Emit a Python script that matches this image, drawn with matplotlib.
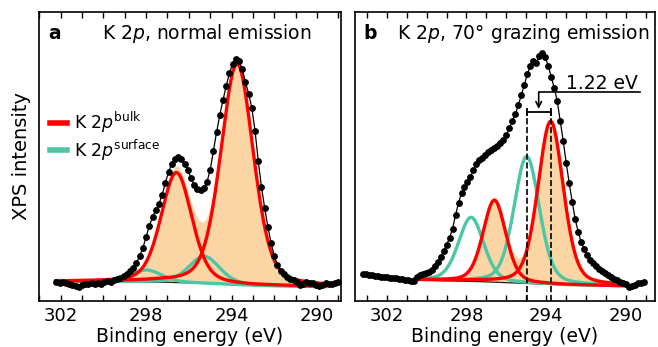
import numpy as np
import matplotlib
matplotlib.use("Agg")
import matplotlib.pyplot as plt
from matplotlib.lines import Line2D

# ---------------- data ----------------
# Panel a: K 2p, normal emission -- measured points (start energy, step, values)
a_start, a_step = 302.2, -0.15
a_counts = [19, 18, 19, 18, 17, 16, 15, 14, 16, 17, 17, 18, 17, 18, 17, 19, 20, 19,
            21, 22, 23, 25, 27, 30, 33, 38, 45, 53, 64, 75, 84, 91, 97, 106, 118,
            129, 137, 142, 144, 142, 137, 131, 123, 116, 112, 111, 113, 119, 131,
            150, 169, 186, 201, 215, 228, 237, 242, 240, 232, 219, 207, 193, 170,
            140, 114, 93, 74, 58, 45, 36, 30, 27, 24, 22, 21, 19, 16, 17, 19, 18,
            18, 16, 15, 16, 18, 17, 17, 18, 19]

# Panel b: K 2p, 70 deg grazing emission
b_start, b_step = 303.2, -0.15
b_counts = [27, 27, 26, 26, 25, 25, 24, 24, 24, 23, 23, 23, 22, 22, 21, 21, 20, 20,
            24, 26, 27, 28, 29, 31, 35, 39, 44, 50, 56, 63, 72, 86, 98, 108, 114,
            119, 124, 131, 137, 141, 143, 146, 149, 151, 153, 155, 158, 161, 166,
            173, 180, 187, 196, 206, 216, 227, 235, 240, 238, 245, 248, 244, 235,
            224, 213, 200, 180, 160, 138, 118, 99, 82, 69, 59, 52, 46, 41, 38, 35,
            32, 30, 28, 26, 24, 22, 21, 19, 18, 17, 14, 15, 16, 18, 18, 19]

# Fit components (centre eV, amplitude, FWHM eV)
a_bulk_center = [293.74, 296.58]
a_bulk_amp = [221, 110]
a_bulk_fwhm = [1.8, 1.7]
a_surf_center = [295.28, 298.0]
a_surf_amp = [27, 12]
a_surf_fwhm = [1.7, 1.7]
a_bg_energy = [302.2, 297.5, 295.0, 293.0, 289.6]
a_bg_level = [19.5, 19.0, 17.5, 15.5, 14.3]
a_fit_range = (302.2, 289.6)

b_bulk_center = [293.78, 296.6]
b_bulk_amp = [163, 82]
b_bulk_fwhm = [1.5, 1.35]
b_surf_center = [294.98, 297.77]
b_surf_amp = [127, 64]
b_surf_fwhm = [1.5, 1.5]
b_bg_energy = [300.6, 297.5, 295.0, 293.0, 290.0]
b_bg_level = [21.0, 19.5, 17.5, 16.0, 15.0]
b_fit_range = (300.6, 290.0)

lorentz_fraction = 0.3
shift_label = "1.22 eV"

xticks_major = [302, 298, 294, 290]

# ---------------- styling ----------------
RED = "#ff0000"
TEAL = "#4cc6a4"
FILL = "#fcd5a5"
FS = 13.5

plt.rcParams["font.family"] = ["DejaVu Sans"]
plt.rcParams["mathtext.fontset"] = "dejavusans"


def pv(E, c, a, w, eta=lorentz_fraction):
    s = w / 2.3548
    G = np.exp(-0.5 * ((E - c) / s) ** 2)
    L = 1.0 / (1.0 + (2 * (E - c) / w) ** 2)
    return a * ((1 - eta) * G + eta * L)


fig = plt.figure(figsize=(6.58, 3.47), dpi=100)
axa = fig.add_axes([0.0597, 0.1326, 0.4578, 0.8329])
axb = fig.add_axes([0.5395, 0.1326, 0.4559, 0.8329])


def draw(ax, start, step, counts, bc, ba, bw, sc, sa, sw, bgE, bgY, rng):
    E = start + step * np.arange(len(counts))
    Ef = np.linspace(rng[0], rng[1], 600)
    bg = np.interp(Ef, bgE[::-1], bgY[::-1])
    bulk = [pv(Ef, c, a, w) for c, a, w in zip(bc, ba, bw)]
    surf = [pv(Ef, c, a, w) for c, a, w in zip(sc, sa, sw)]
    ax.fill_between(Ef, bg, bg + sum(bulk), color=FILL, lw=0, zorder=1)
    ax.plot(Ef, bg, color="#222222", lw=0.9, zorder=2)
    for s in surf:
        ax.plot(Ef, bg + s, color=TEAL, lw=2.4, zorder=3)
    for b in bulk:
        ax.plot(Ef, bg + b, color=RED, lw=2.4, zorder=4)
    ax.plot(E, counts, "-o", color="k", lw=0.9, ms=3.9, zorder=5)


draw(axa, a_start, a_step, a_counts, a_bulk_center, a_bulk_amp, a_bulk_fwhm,
     a_surf_center, a_surf_amp, a_surf_fwhm, a_bg_energy, a_bg_level, a_fit_range)
draw(axb, b_start, b_step, b_counts, b_bulk_center, b_bulk_amp, b_bulk_fwhm,
     b_surf_center, b_surf_amp, b_surf_fwhm, b_bg_energy, b_bg_level, b_fit_range)

axa.set_xlim(302.72, 288.9)
axb.set_xlim(303.59, 288.55)

for ax in (axa, axb):
    ax.set_ylim(0, 289)
    ax.set_yticks([])
    ax.set_xticks(xticks_major)
    ax.set_xticks(np.arange(289, 304), minor=True)
    ax.tick_params(axis="x", which="both", direction="in", top=True, length=4,
                   width=1, labelsize=13, pad=4)
    for sp in ax.spines.values():
        sp.set_linewidth(1.2)
    ax.set_xlabel("Binding energy (eV)", fontsize=FS, labelpad=2)

axa.set_ylabel("XPS intensity", fontsize=14, labelpad=6)

# panel titles
axa.text(0.03, 0.905, "a", transform=axa.transAxes, fontsize=FS, fontweight="bold",
         va="baseline", ha="left")
axa.text(0.207, 0.905, r"K 2$p$, normal emission", transform=axa.transAxes,
         fontsize=FS, va="baseline", ha="left")
axb.text(0.028, 0.905, "b", transform=axb.transAxes, fontsize=FS, fontweight="bold",
         va="baseline", ha="left")
axb.text(0.139, 0.905, r"K 2$p$, 70° grazing emission", transform=axb.transAxes,
         fontsize=FS, va="baseline", ha="left")

# legend
handles = [Line2D([], [], color=RED, lw=4), Line2D([], [], color=TEAL, lw=4)]
labels = [r"K 2$p^{\mathrm{bulk}}$", r"K 2$p^{\mathrm{surface}}$"]
axa.legend(handles, labels, loc="upper left", bbox_to_anchor=(0.035, 0.66),
           frameon=False, fontsize=12.5, handlelength=1.0, handletextpad=0.4,
           borderpad=0, borderaxespad=0, labelspacing=0.12)

# shift annotation in panel b
sx = b_surf_center[0]
bx = b_bulk_center[0]
ybr = 189
axb.vlines([sx, bx], 0, ybr, colors="k", linestyles="--", lw=1.2, zorder=6)
axb.plot([sx, bx], [ybr, ybr], color="k", lw=1.3, zorder=6)
axb.plot([sx, bx], [ybr, ybr], ls="none", marker="|", ms=6, mew=1.3, color="k", zorder=6)
mid = 0.5 * (sx + bx)
axb.annotate("", xy=(mid, ybr + 3), xytext=(mid, 208.5),
             arrowprops=dict(arrowstyle="->", color="k", lw=1.2,
                             shrinkA=0, shrinkB=0), zorder=6)
axb.plot([mid, 289.3], [208.5, 208.5], color="k", lw=1.2, zorder=6)
axb.text(291.2, 212, shift_label, fontsize=FS, ha="center", va="baseline")

fig.savefig("out.png", dpi=100)
